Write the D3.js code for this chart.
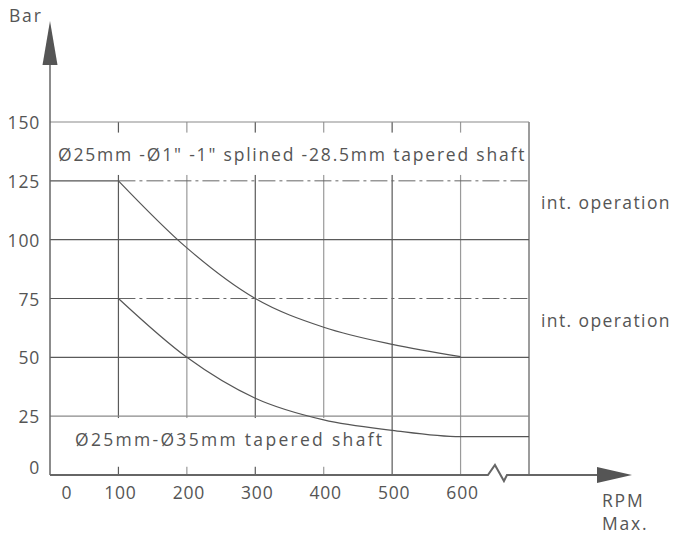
<!DOCTYPE html>
<html>
<head>
<meta charset="utf-8">
<script src="https://cdn.jsdelivr.net/npm/d3@7"></script>
<style>
  body { margin: 0; background: #fff; }
  text { font-family: "Open Sans", sans-serif; fill: #555; font-size: 17.5px; }
  text.word { letter-spacing: 1.8px; }
  text.num { letter-spacing: 0.8px; }
</style>
</head>
<body>
<div class="chart"></div>
<script>
// values
const rpmTicks = [0, 100, 200, 300, 400, 500, 600]
const barTicks = [0, 25, 50, 75, 100, 125, 150]
const gridRpm = [100, 200, 300, 400, 500, 600, 700]
const gridBar = [25, 50, 100, 150]
const limitBar = [125, 75]

const upperRpm = [0, 100, 200, 300, 400, 500, 600]
const upperBar = [125, 125, 96.5, 75, 62.8, 55.5, 50.3]
const lowerRpm = [0, 100, 200, 300, 400, 500, 600, 700]
const lowerBar = [75, 75, 50, 32.6, 23.4, 19, 16.3, 16.3]

const topLabel = 'Ø25mm -Ø1" -1" splined -28.5mm tapered shaft'
const bottomLabel = 'Ø25mm-Ø35mm tapered shaft'

let dimensions = {
    width: 674,
    height: 535,
    margin: { top: 122, bottom: 60, left: 50, right: 145 }
}

const svg = d3.select('.chart')
    .append('svg')
    .attr('width', dimensions.width)
    .attr('height', dimensions.height)

const plotW = dimensions.width - dimensions.margin.left - dimensions.margin.right
const plotH = dimensions.height - dimensions.margin.top - dimensions.margin.bottom

const xScale = d3.scaleLinear()
    .domain([0, 700])
    .range([dimensions.margin.left, dimensions.margin.left + plotW])

const yScale = d3.scaleLinear()
    .domain([0, 150])
    .range([dimensions.margin.top + plotH, dimensions.margin.top])

const x0 = xScale(0), y0 = yScale(0)

// grid
const grid = svg.append('g')
grid.selectAll('.vgrid')
    .data(gridRpm)
    .join('line')
    .attr('x1', d => xScale(d)).attr('x2', d => xScale(d))
    .attr('y1', yScale(150)).attr('y2', y0)
    .attr('stroke', (d, i) => i % 2 === 0 || d === 700 ? '#5a5a5a' : '#9a9a9a')
    .attr('stroke-width', 1.2)

grid.selectAll('.hgrid')
    .data(gridBar)
    .join('line')
    .attr('x1', x0).attr('x2', xScale(700))
    .attr('y1', d => yScale(d)).attr('y2', d => yScale(d))
    .attr('stroke', d => d === 100 || d === 50 ? '#5a5a5a' : '#8a8a8a')
    .attr('stroke-width', 1.2)

grid.selectAll('.limit')
    .data(limitBar)
    .join('line')
    .attr('x1', xScale(100)).attr('x2', xScale(700))
    .attr('y1', d => yScale(d)).attr('y2', d => yScale(d))
    .attr('stroke', '#666')
    .attr('stroke-width', 1)
    .attr('stroke-dasharray', '17,4,3,4')

// white boxes behind the labels
svg.append('rect')
    .attr('x', x0 + 3).attr('y', yScale(145.5))
    .attr('width', xScale(700) - x0 - 5).attr('height', yScale(127.5) - yScale(145.5))
    .attr('fill', '#fff')
svg.append('rect')
    .attr('x', x0 + 3).attr('y', yScale(24.2))
    .attr('width', xScale(486) - x0).attr('height', yScale(3.5) - yScale(24.2))
    .attr('fill', '#fff')

// curves
const pts = (xs, ys) => xs.map((v, i) => [xScale(v), yScale(ys[i])])
const flat = d3.line()
const smooth = d3.line().curve(d3.curveMonotoneX)

function drawCurve(xs, ys) {
    const p = pts(xs, ys)
    svg.append('path').attr('d', flat(p.slice(0, 2)))
        .attr('fill', 'none').attr('stroke', '#555').attr('stroke-width', 1.2)
    svg.append('path').attr('d', smooth(p.slice(1)))
        .attr('fill', 'none').attr('stroke', '#555').attr('stroke-width', 1.2)
}
drawCurve(upperRpm, upperBar)
drawCurve(lowerRpm, lowerBar)

// labels inside plot
svg.append('text').attr('class', 'word')
    .attr('x', x0 + 8).attr('y', yScale(136.5))
    .attr('dominant-baseline', 'central')
    .text(topLabel)
svg.append('text').attr('class', 'word')
    .attr('x', x0 + 25).attr('y', yScale(15.5))
    .attr('dominant-baseline', 'central')
    .style('letter-spacing', '2.3px')
    .text(bottomLabel)

svg.selectAll('.intop')
    .data(limitBar)
    .join('text').attr('class', 'word')
    .attr('x', xScale(700) + 12)
    .attr('y', d => yScale(d) + 21)
    .attr('dominant-baseline', 'central')
    .style('letter-spacing', '1.4px')
    .text('int. operation')

// y axis with arrow
svg.append('line')
    .attr('x1', x0).attr('x2', x0).attr('y1', y0).attr('y2', 64)
    .attr('stroke', '#666').attr('stroke-width', 1.5)
svg.append('path')
    .attr('d', `M${x0},21 L${x0 + 7.5},65 L${x0 - 7.5},65 Z`)
    .attr('fill', '#555')

// x axis with break and arrow
svg.append('path')
    .attr('d', `M${x0},${y0} H${xScale(640)} l7,-10 l9,16 l3,-6 H597`)
    .attr('fill', 'none').attr('stroke', '#666').attr('stroke-width', 2)
svg.append('path')
    .attr('d', `M632,${y0} L597,${y0 - 8} L597,${y0 + 8} Z`)
    .attr('fill', '#555')

// tick labels
svg.selectAll('.xlab')
    .data(rpmTicks)
    .join('text').attr('class', 'num')
    .attr('x', d => d === 0 ? xScale(d) + 17 : xScale(d) + 2)
    .attr('y', y0 + 24)
    .attr('text-anchor', 'middle')
    .text(d => d)

svg.selectAll('.ylab')
    .data(barTicks)
    .join('text').attr('class', 'num')
    .attr('x', 40)
    .attr('y', d => d === 0 ? yScale(d) - 8 : yScale(d))
    .attr('text-anchor', 'end')
    .attr('dominant-baseline', 'central')
    .text(d => d)

// axis titles
svg.append('text').attr('class', 'word').attr('x', 9).attr('y', 22).text('Bar')
svg.append('text').attr('class', 'word').attr('x', 602).attr('y', 507).text('RPM')
svg.append('text').attr('class', 'word').attr('x', 602).attr('y', 530).text('Max.')
</script>
</body>
</html>
